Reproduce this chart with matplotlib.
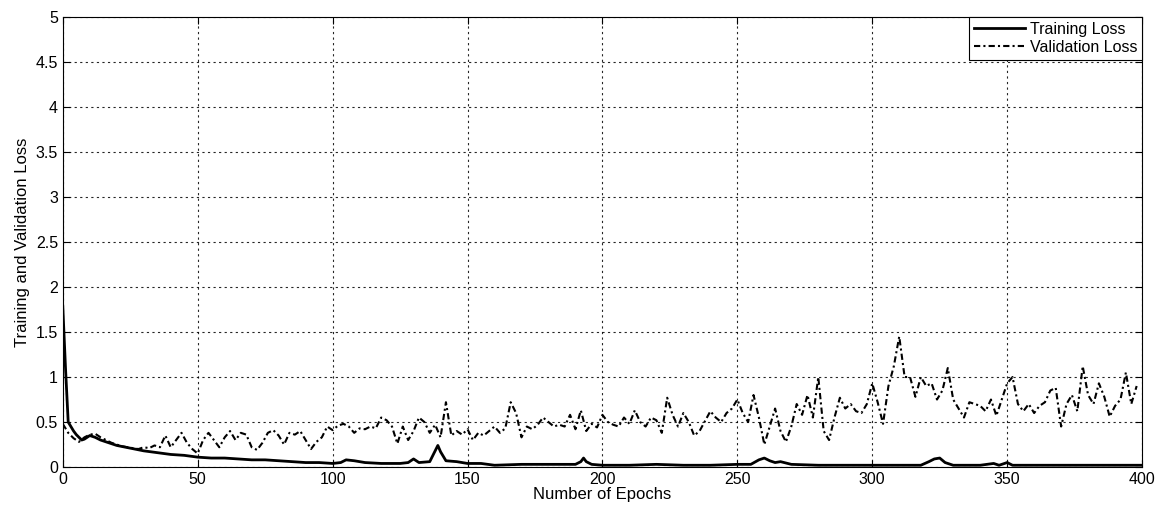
import matplotlib
matplotlib.use("Agg")
import matplotlib.pyplot as plt

plt.rcParams['font.family'] = ['Liberation Sans', 'DejaVu Sans']

# training loss (epoch, loss)
train_epochs = [0, 1, 2, 3, 4, 5, 6, 7, 8, 9, 10, 11, 12, 14, 16, 18, 20, 25, 30, 35,
                40, 45, 50, 55, 60, 65, 70, 75, 80, 85, 90, 95, 100, 103, 105, 108, 112,
                118, 125, 128, 130, 132, 136, 138, 139, 140, 142, 146, 150, 155, 160, 170,
                180, 190, 192, 193, 194, 196, 200, 210, 220, 230, 240, 250, 255, 258, 260,
                262, 264, 266, 270, 280, 290, 300, 310, 318, 321, 323, 325, 327, 330, 340,
                345, 347, 350, 352, 360, 380, 400]
train_loss = [1.78, 1.10, 0.50, 0.45, 0.40, 0.36, 0.33, 0.30, 0.31, 0.33, 0.35, 0.34, 0.33,
              0.30, 0.28, 0.26, 0.24, 0.21, 0.18, 0.16, 0.14, 0.13, 0.11, 0.10, 0.10, 0.09,
              0.08, 0.08, 0.07, 0.06, 0.05, 0.05, 0.04, 0.05, 0.08, 0.07, 0.05, 0.04, 0.04,
              0.05, 0.09, 0.05, 0.06, 0.18, 0.24, 0.17, 0.07, 0.06, 0.04, 0.04, 0.02, 0.03,
              0.03, 0.03, 0.06, 0.10, 0.06, 0.03, 0.02, 0.02, 0.03, 0.02, 0.02, 0.03, 0.03,
              0.08, 0.10, 0.07, 0.05, 0.06, 0.03, 0.02, 0.02, 0.02, 0.02, 0.02, 0.06, 0.09,
              0.10, 0.05, 0.02, 0.02, 0.04, 0.02, 0.05, 0.02, 0.02, 0.02, 0.02]

# validation loss, every 2 epochs from 0 to 398
val_epochs = list(range(0, 400, 2))
val_loss = [
    0.48, 0.38, 0.32, 0.28, 0.33, 0.36, 0.37, 0.33, 0.30, 0.27,
    0.25, 0.23, 0.22, 0.21, 0.20, 0.22, 0.21, 0.24, 0.22, 0.35,
    0.22, 0.30, 0.38, 0.27, 0.20, 0.15, 0.30, 0.38, 0.30, 0.22,
    0.33, 0.40, 0.30, 0.38, 0.36, 0.22, 0.19, 0.27, 0.38, 0.41,
    0.35, 0.25, 0.38, 0.36, 0.40, 0.30, 0.20, 0.28, 0.33, 0.45,
    0.41, 0.46, 0.48, 0.45, 0.38, 0.43, 0.42, 0.45, 0.43, 0.55,
    0.52, 0.45, 0.26, 0.45, 0.30, 0.40, 0.55, 0.50, 0.38, 0.47,
    0.33, 0.72, 0.35, 0.40, 0.36, 0.42, 0.30, 0.38, 0.35, 0.40,
    0.45, 0.38, 0.43, 0.72, 0.60, 0.33, 0.45, 0.42, 0.47, 0.55,
    0.50, 0.45, 0.47, 0.45, 0.58, 0.42, 0.63, 0.40, 0.48, 0.44,
    0.58, 0.50, 0.47, 0.45, 0.55, 0.48, 0.63, 0.50, 0.45, 0.55,
    0.52, 0.38, 0.77, 0.58, 0.45, 0.60, 0.50, 0.35, 0.40, 0.51,
    0.62, 0.55, 0.50, 0.60, 0.65, 0.75, 0.60, 0.50, 0.80, 0.55,
    0.25, 0.45, 0.65, 0.40, 0.28, 0.45, 0.70, 0.58, 0.80, 0.55,
    1.00, 0.40, 0.30, 0.55, 0.77, 0.65, 0.70, 0.62, 0.60, 0.70,
    0.93, 0.72, 0.48, 0.90, 1.12, 1.45, 1.00, 1.00, 0.78, 1.00,
    0.90, 0.93, 0.75, 0.85, 1.10, 0.75, 0.65, 0.55, 0.72, 0.70,
    0.68, 0.62, 0.75, 0.57, 0.75, 0.93, 1.00, 0.70, 0.62, 0.70,
    0.60, 0.68, 0.72, 0.85, 0.88, 0.45, 0.70, 0.80, 0.62, 1.12,
    0.80, 0.70, 0.93, 0.78, 0.56, 0.68, 0.75, 1.05, 0.70, 0.90,
]

x_ticks = list(range(0, 401, 50))
y_ticks = [0, 0.5, 1, 1.5, 2, 2.5, 3, 3.5, 4, 4.5, 5]
y_labels = ['0', '0.5', '1', '1.5', '2', '2.5', '3', '3.5', '4', '4.5', '5']

fig = plt.figure(figsize=(11.63, 5.11), dpi=100)
ax = fig.add_axes([0.054, 0.086, 0.928, 0.881])

ax.plot(train_epochs, train_loss, color='black', linewidth=2, label='Training Loss')
ax.plot(val_epochs, val_loss, color='black', linewidth=1.5, linestyle='-.',
        dashes=(3, 1.5, 1, 1.5), label='Validation Loss')

ax.set_xlim(0, 400)
ax.set_ylim(0, 5)
ax.set_xticks(x_ticks)
ax.set_yticks(y_ticks)
ax.set_yticklabels(y_labels)
ax.grid(True, color='black', linestyle=(0, (2, 3)), linewidth=0.8, alpha=0.85)
ax.tick_params(direction='in', top=True, right=True, labelsize=11.5, length=5)
for s in ax.spines.values():
    s.set_linewidth(0.8)

ax.set_xlabel('Number of Epochs', fontsize=12, labelpad=0)
ax.set_ylabel('Training and Validation Loss', fontsize=12, labelpad=4)

leg = ax.legend(loc='upper right', fontsize=11.5, fancybox=False, framealpha=1,
                edgecolor='black', borderaxespad=0, handlelength=3.2,
                borderpad=0.3, labelspacing=0.2, handletextpad=0.3)
leg.get_frame().set_linewidth(0.8)

fig.savefig('out.png', dpi=100)
